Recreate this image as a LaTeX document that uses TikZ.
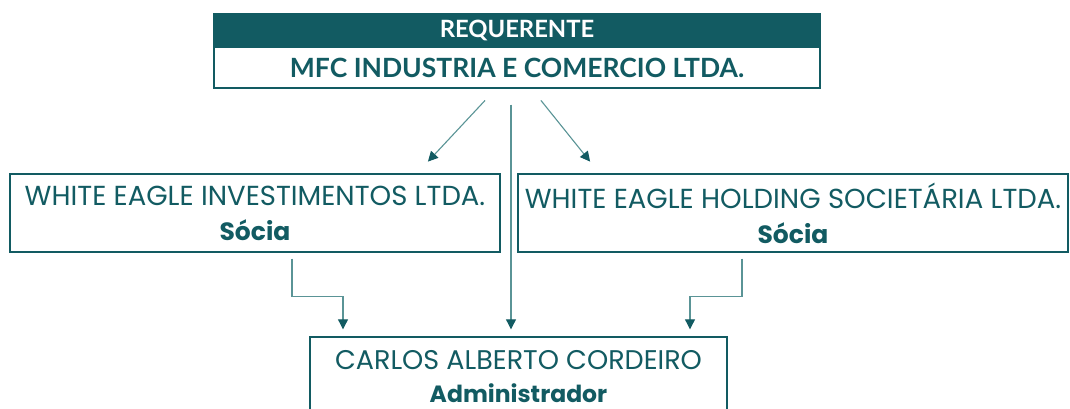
\documentclass[tikz,border=0pt]{standalone}
\usepackage{fontspec}
\setmainfont{Poppins}
\newfontfamily\titlefont{Lato}
\usetikzlibrary{arrows.meta}
\definecolor{teal1}{HTML}{125B62}
\definecolor{teal2}{HTML}{5A9496}
\begin{document}
\begin{tikzpicture}[x=1pt,y=-1pt,
    box/.style={draw=teal1,line width=1.4pt,fill=white,align=center,text=teal1,
      inner sep=0pt},
    link/.style={draw=teal2,line width=1.1pt,
      arrows={-{Triangle[length=10pt,width=10pt,color=teal1]}}}]
      \clip (0,0) rectangle (1070,409);
      \fill[white] (0,0) rectangle (1070,409);
      \node[box,fill=teal1,minimum width=606pt,minimum height=33pt,
        font=\titlefont\bfseries\fontsize{23.8}{26}\selectfont,text=white]
        (head) at (517,30.5) {REQUERENTE};
      \node[box,minimum width=606pt,minimum height=41pt,
        font=\titlefont\bfseries\fontsize{26.5}{28}\selectfont]
        (req) at (517,67.5) {MFC INDUSTRIA E COMERCIO LTDA.};
      \node[box,minimum width=490pt,minimum height=78pt,
        font=\fontsize{27.5}{35}\selectfont]
        (invest) at (255,213) {WHITE EAGLE INVESTIMENTOS LTDA.\\{\fontsize{25}{35}\selectfont\bfseries Sócia}};
      \node[box,minimum width=550pt,minimum height=78pt,
        font=\fontsize{27.5}{35}\selectfont]
        (hold) at (793,213) {WHITE EAGLE HOLDING SOCIETÁRIA LTDA.\\{\fontsize{25}{35}\selectfont\bfseries Sócia}};
      \node[box,minimum width=417pt,minimum height=79pt,
        font=\fontsize{27}{33}\selectfont]
        (admin) at (518.5,376.5) {CARLOS ALBERTO CORDEIRO\\{\fontsize{23.5}{33}\selectfont\bfseries Administrador}};
      % ligacoes
      \draw[link,shorten <=16pt,shorten >=16pt]
        ([xshift=-21pt]req.south) -- ([xshift=162pt]invest.north);
      \draw[link,shorten <=15pt,shorten >=15pt]
        ([xshift=14.5pt]req.south) -- ([xshift=-193.5pt]hold.north);
      \draw[link,shorten <=16pt,shorten >=7pt]
        ([xshift=-6pt]req.south) -- ([xshift=-7.5pt]admin.north);
      \draw[link,shorten >=7pt]
        ([xshift=37pt,yshift=-6pt]invest.south) |- ([xshift=-175.5pt,yshift=40pt]admin.north)
        -- ([xshift=-175.5pt]admin.north);
      \draw[link,shorten >=7pt]
        ([xshift=-51pt,yshift=-6pt]hold.south) |- ([xshift=171.5pt,yshift=40pt]admin.north)
        -- ([xshift=171.5pt]admin.north);
    \end{tikzpicture}
\end{document}
